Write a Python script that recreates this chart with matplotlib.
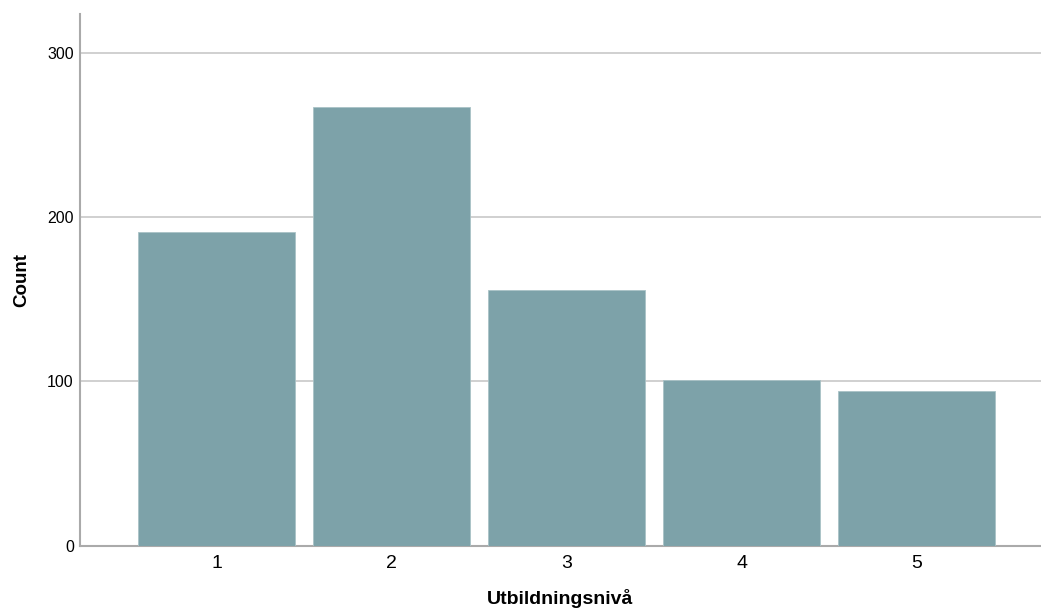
import matplotlib
matplotlib.use("Agg")
import matplotlib.pyplot as plt

categories = ["1", "2", "3", "4", "5"]
counts = [191, 267, 156, 101, 94]
y_ticks = [0, 100, 200, 300]
x_label = "Utbildningsnivå"
y_label = "Count"

plt.rcParams['font.family'] = ['Liberation Sans', 'DejaVu Sans']

fig = plt.figure(figsize=(10.41, 6.12), dpi=100)
ax = fig.add_axes([80/1041, 66.3/612, (1041-80)/1041, (545.7-14)/612])

positions = list(range(1, len(categories) + 1))
ax.bar(positions, counts, width=0.897, color="#7DA2A9", edgecolor="#a9c2c6", linewidth=0.6, zorder=3)

ax.set_xlim(0.218, 5.709)
ax.set_ylim(0, 323.8)
ax.set_xticks(positions)
ax.set_xticklabels(categories, fontsize=14)
ax.set_yticks(y_ticks)
ax.set_yticklabels([str(v) for v in y_ticks], fontsize=11.5)
ax.tick_params(axis='both', length=0)
ax.tick_params(axis='x', pad=7)
ax.tick_params(axis='y', pad=4.5)

ax.grid(axis='y', color="#c8c8c8", linewidth=1.2, zorder=0)
for s in ['top', 'right']:
    ax.spines[s].set_visible(False)
for s in ['left', 'bottom']:
    ax.spines[s].set_color("#aaaaaa")
    ax.spines[s].set_linewidth(1.5)

ax.set_xlabel(x_label, fontsize=14, fontweight='bold', labelpad=12)
ax.set_ylabel(y_label, fontsize=13.5, fontweight='bold', labelpad=12)

fig.savefig("out.png", dpi=100)
